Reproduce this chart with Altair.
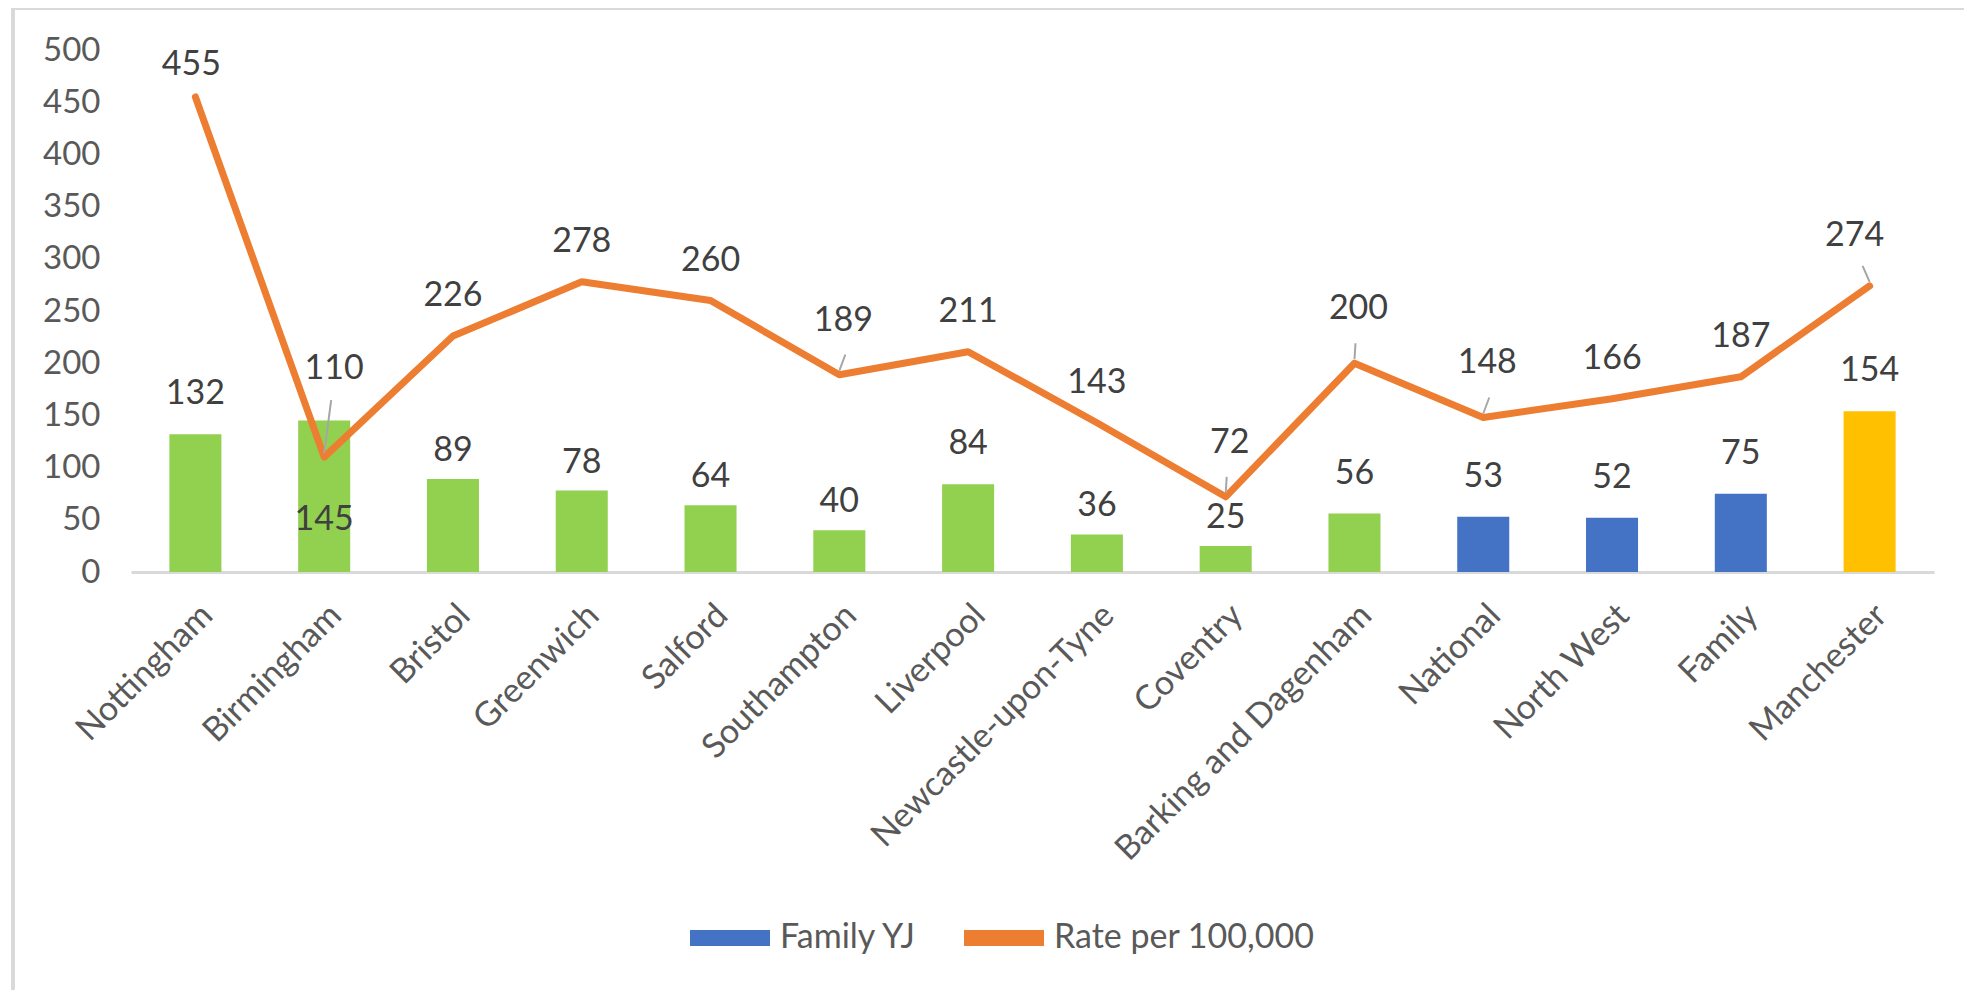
import altair as alt
import pandas as pd

# ---- data ----
categories = ["Nottingham", "Birmingham", "Bristol", "Greenwich", "Salford", "Southampton",
              "Liverpool", "Newcastle-upon-Tyne", "Coventry", "Barking and Dagenham",
              "National", "North West", "Family", "Manchester"]
family_yj = [132, 145, 89, 78, 64, 40, 84, 36, 25, 56, 53, 52, 75, 154]
rate_per_100k = [455, 110, 226, 278, 260, 189, 211, 143, 72, 200, 148, 166, 187, 274]
bar_group = ["Comparator"] * 10 + ["Family YJ"] * 3 + ["Manchester"]

# ---- style ----
FONT = "Lato"
AXIS_TXT = "#595959"
LABEL_TXT = "#404040"
GRID = "#D9D9D9"
series_domain = ["Family YJ", "Rate per 100,000", "Comparator", "Manchester"]
series_range = ["#4472C4", "#ED7D31", "#92D050", "#FFC000"]
leader_right = ["Southampton", "National"]
leader_vertical = ["Coventry", "Barking and Dagenham"]
leader_left = ["Manchester"]
leader_all = leader_right + leader_vertical + leader_left
bar_label_close = ["Bristol", "Greenwich", "Salford", "Southampton", "Newcastle-upon-Tyne", "Coventry"]
rate_label_close = ["Nottingham"]

df = pd.DataFrame({"category": categories, "family_yj": family_yj,
                   "rate": rate_per_100k, "group": bar_group})

X = lambda: alt.X("category:N", sort=categories)
x_enc = alt.X("category:N", sort=categories, title=None,
              scale=alt.Scale(paddingInner=0.596, paddingOuter=0.298),
              axis=alt.Axis(labelAngle=-45, labelFontSize=34, labelFont=FONT, labelLimit=0,
                            labelColor=AXIS_TXT, ticks=False, domainColor=GRID,
                            domainWidth=3, labelPadding=26, grid=False))
y_scale = alt.Scale(domain=[0, 500], nice=False)
y_enc = alt.Y("family_yj:Q", scale=y_scale, title=None,
              axis=alt.Axis(values=list(range(0, 501, 50)), labelFontSize=33, labelFont=FONT,
                            labelColor=AXIS_TXT, ticks=False, domain=False, grid=False,
                            labelPadding=31))
color_scale = alt.Scale(domain=series_domain, range=series_range)

base = alt.Chart(df)

bars = base.mark_bar().encode(
    x=x_enc, y=y_enc,
    color=alt.Color("group:N", scale=color_scale, title=None,
                    legend=alt.Legend(values=["Family YJ", "Rate per 100,000"], orient="none",
                                      direction="horizontal", legendX=559, legendY=848,
                                      symbolType="M-1,-0.2H1V0.2H-1Z", symbolSize=6400,
                                      symbolStrokeWidth=0, labelFontSize=34, labelFont=FONT,
                                      labelColor=AXIS_TXT, labelOffset=10, columnPadding=46,
                                      labelLimit=0, symbolOpacity=1)),
)

line = base.mark_line(strokeWidth=7, strokeJoin="round", strokeCap="round").encode(
    x=X(), y=alt.Y("rate:Q", scale=y_scale),
    color=alt.datum("Rate per 100,000"),
)

txt = dict(fontSize=34, font=FONT, color=LABEL_TXT, baseline="middle", align="center")

def in_cats(cats):
    return alt.FieldOneOfPredicate(field="category", oneOf=cats)

def not_in(cats):
    return {"not": in_cats(cats)}

bar_labels = base.transform_filter(not_in(bar_label_close + ["Birmingham"])).mark_text(dy=-40, **txt).encode(
    x=X(), y=alt.Y("family_yj:Q", scale=y_scale), text="family_yj:Q")
bar_labels_close = base.transform_filter(in_cats(bar_label_close)).mark_text(dy=-28, **txt).encode(
    x=X(), y=alt.Y("family_yj:Q", scale=y_scale), text="family_yj:Q")
bar_label_bham = base.transform_filter(in_cats(["Birmingham"])).mark_text(dy=99, **txt).encode(
    x=X(), y=alt.Y("family_yj:Q", scale=y_scale), text="family_yj:Q")

rate_plain = base.transform_filter(not_in(leader_all + rate_label_close + ["Birmingham"])).mark_text(dy=-40, **txt).encode(
    x=X(), y=alt.Y("rate:Q", scale=y_scale), text="rate:Q")
rate_close = base.transform_filter(in_cats(rate_label_close)).mark_text(dy=-32, dx=-4, **txt).encode(
    x=X(), y=alt.Y("rate:Q", scale=y_scale), text="rate:Q")
rate_leader = base.transform_filter(in_cats(leader_right + leader_vertical)).mark_text(dy=-54, dx=4, **txt).encode(
    x=X(), y=alt.Y("rate:Q", scale=y_scale), text="rate:Q")
rate_leader_l = base.transform_filter(in_cats(leader_left)).mark_text(dy=-50, dx=-15, **txt).encode(
    x=X(), y=alt.Y("rate:Q", scale=y_scale), text="rate:Q")
rate_bham = base.transform_filter(in_cats(["Birmingham"])).mark_text(dy=-88, dx=10, **txt).encode(
    x=X(), y=alt.Y("rate:Q", scale=y_scale), text="rate:Q")

def leader(cats, dx2, top):
    return base.transform_filter(in_cats(cats)).mark_rule(
        color="#A6A6A6", strokeWidth=2, yOffset=-4, y2Offset=top, x2Offset=dx2
    ).encode(x=X(), x2="category:N", y=alt.Y("rate:Q", scale=y_scale), y2="rate:Q")

leaders = [leader(leader_right, 6, -20), leader(leader_vertical, 1, -20),
           leader(leader_left, -7, -20), leader(["Birmingham"], 7, -57)]

frame_top = alt.Chart(df).mark_rule(color=GRID, strokeWidth=3).encode(
    x=alt.value(-118), x2=alt.value(1841), y=alt.value(-42))
frame_left = alt.Chart(df).mark_rule(color=GRID, strokeWidth=3).encode(
    x=alt.value(-118), y=alt.value(-42), y2=alt.value(940))

chart = alt.layer(frame_top, frame_left, bars, line, *leaders, bar_labels, bar_labels_close,
                  bar_label_bham, rate_plain, rate_close, rate_leader, rate_leader_l,
                  rate_bham).resolve_scale(color="shared").properties(
    width=1803, height=522,
    autosize=alt.AutoSizeParams(type="none"),
    padding={"left": 123, "top": 42, "right": 30, "bottom": 418},
    background="white",
).configure_view(stroke=None)

chart.save("out.html", embed_options={"renderer": "svg", "actions": False})
